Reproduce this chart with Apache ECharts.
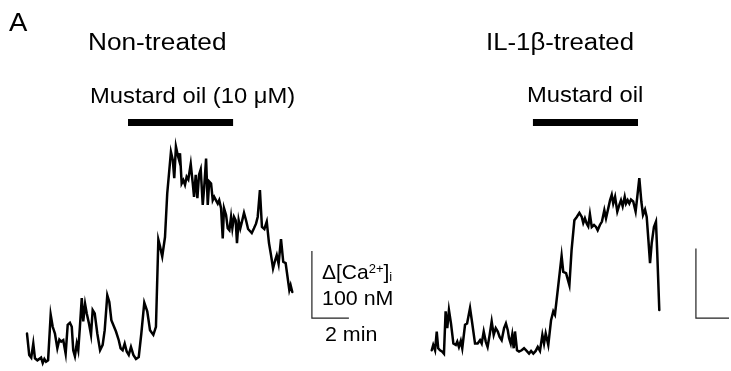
<!DOCTYPE html>
<html>
<head>
<meta charset="utf-8">
<script src="https://cdn.jsdelivr.net/npm/echarts@6/dist/echarts.min.js"></script>
<style>
  html, body { margin: 0; padding: 0; background: #fff; }
  #chart { width: 731px; height: 371px; }
</style>
</head>
<body>
<div id="chart"></div>
<script>
// Time (min) and Δ[Ca2+]i (nM) for the non-treated neuron
var leftTime = [0.00,0.12,0.23,0.34,0.43,0.56,0.66,0.76,0.85,0.94,
  1.03,1.14,1.28,1.39,1.51,1.64,1.75,1.85,1.96,2.09,
  2.20,2.32,2.42,2.50,2.59,2.69,2.77,2.86,2.96,3.04,
  3.14,3.23,3.35,3.46,3.55,3.66,3.80,3.95,4.09,4.20,
  4.34,4.45,4.56,4.66,4.81,4.96,5.06,5.17,5.28,5.39,
  5.50,5.62,5.75,5.89,6.04,6.18,6.34,6.50,6.65,6.83,
  6.97,7.10,7.19,7.31,7.46,7.58,7.78,7.88,7.96,8.05,
  8.15,8.22,8.27,8.36,8.45,8.54,8.63,8.72,8.85,8.96,
  9.03,9.12,9.21,9.30,9.39,9.50,9.58,9.68,9.77,9.85,
  9.95,10.04,10.12,10.22,10.31,10.39,10.49,10.58,10.65,10.76,
  10.85,10.94,11.03,11.10,11.19,11.28,11.35,11.44,11.53,11.62,
  11.73,11.84,11.95,12.05,12.15,12.27,12.38,12.47,12.59,12.70,
  12.83,12.96,13.08,13.19,13.30,13.41,13.50,13.60,13.73,13.85,
  13.98,14.07,14.18,14.25,14.34];
var leftCa = [47,15,11,32,10,7,5,11,3,9,
  5,7,75,57,47,25,38,35,37,17,
  60,63,57,22,13,32,22,57,100,65,
  91,77,62,45,82,77,47,22,30,52,
  104,94,67,66,50,37,25,22,32,20,
  15,27,15,9,12,47,93,80,52,45,
  57,187,177,162,191,256,318,306,279,326,
  313,306,316,271,276,269,281,277,300,271,
  251,284,249,284,292,239,266,308,239,274,
  271,246,251,249,241,246,234,189,234,224,
  204,201,221,204,221,216,182,216,204,214,
  227,216,203,200,197,204,211,221,261,206,
  203,214,182,164,144,156,164,151,188,154,
  152,152,112,119,109];

// Time (min) and Δ[Ca2+]i (nM) for the IL-1β-treated neuron
var rightTime = [0.04,0.12,0.22,0.31,0.39,0.49,0.61,0.70,0.79,0.88,
  0.97,1.08,1.21,1.34,1.42,1.51,1.61,1.69,1.84,1.95,
  2.11,2.23,2.38,2.52,2.65,2.74,2.85,2.96,3.06,3.17,
  3.28,3.39,3.50,3.61,3.71,3.82,3.95,4.05,4.15,4.22,
  4.31,4.39,4.47,4.54,4.65,4.76,4.90,5.03,5.17,5.30,
  5.41,5.53,5.66,5.77,5.89,6.02,6.11,6.20,6.34,6.49,
  6.61,6.70,6.88,7.06,7.15,7.30,7.48,7.60,7.75,7.88,
  8.02,8.15,8.23,8.32,8.42,8.50,8.59,8.69,8.81,8.92,
  9.01,9.13,9.24,9.37,9.46,9.55,9.68,9.77,9.85,9.95,
  10.07,10.18,10.27,10.36,10.47,10.54,10.63,10.72,10.81,10.93,
  11.06,11.15,11.26,11.37,11.46,11.57,11.66,11.75,11.84,11.93,
  12.05,12.16,12.23,12.34];
var rightCa = [22,30,22,50,25,22,20,17,80,55,
  82,62,32,30,35,27,36,25,60,62,
  85,62,32,32,37,32,50,35,27,45,
  65,45,55,50,42,37,55,62,52,40,
  32,45,25,50,22,20,22,25,21,17,
  21,17,21,27,21,45,32,47,30,67,
  80,75,119,163,139,137,119,172,216,221,
  227,221,212,219,211,207,225,206,209,206,
  201,209,214,231,219,221,246,254,241,251,
  229,239,246,237,251,241,246,241,247,244,
  229,251,279,244,224,232,221,187,152,182,
  206,214,167,82];

// Mustard oil application windows (min) and the level the bar is drawn at (nM)
var leftStimulus = [5.46, 11.14];
var rightStimulus = [5.51, 11.19];
var stimulusLevel = 362;

// Scale bars: 2 min horizontally, 100 nM vertically
var leftScaleTime = [15.4, 17.4];
var leftScaleCa = [70, 170];
var rightScaleTime = [14.32, 16.32];
var rightScaleCa = [70, 174];

var titles = ['Non-treated', 'IL-1β-treated'];
var stimulusLabels = ['Mustard oil (10 μM)', 'Mustard oil'];

function pairs(xs, ys) {
  return xs.map(function (x, i) { return [x, ys[i]]; });
}
function scaleBar(ts, cs) {
  return [[ts[0], cs[1]], [ts[0], cs[0]], [ts[1], cs[0]]];
}

var FONT = 'Liberation Sans';
var chart = echarts.init(document.getElementById('chart'), null, { renderer: 'canvas' });

// Both panels share 18.5 px per minute and 0.67 px per nM
function axisX(idx, max) {
  return { type: 'value', gridIndex: idx, min: 0, max: max, show: false };
}
function axisY(idx) {
  return { type: 'value', gridIndex: idx, min: 0, max: 400, show: false };
}
function lineSeries(idx, data, width, color, cap) {
  return {
    type: 'line', xAxisIndex: idx, yAxisIndex: idx, data: data,
    showSymbol: false, symbol: 'none', clip: false, silent: true,
    lineStyle: { width: width, color: color, cap: cap || 'butt', join: 'miter' },
    emphasis: { disabled: true }
  };
}
function label(text, x, y, size, sx) {
  return {
    type: 'text', x: x, y: y, scaleX: sx || 1,
    style: { text: text, fontSize: size, fontFamily: FONT, fill: '#000',
      align: 'left', verticalAlign: 'middle' }
  };
}

chart.setOption({
  animation: false,
  backgroundColor: '#fff',
  grid: [
    { left: 27, top: 97, width: 370, height: 268 },
    { left: 431, top: 97, width: 296, height: 268 }
  ],
  xAxis: [axisX(0, 20), axisX(1, 16)],
  yAxis: [axisY(0), axisY(1)],
  series: [
    lineSeries(0, pairs(leftTime, leftCa), 2.5, '#000', 'round'),
    lineSeries(0, pairs(leftStimulus, [stimulusLevel, stimulusLevel]), 7, '#000'),
    lineSeries(0, scaleBar(leftScaleTime, leftScaleCa), 1.2, '#222'),
    lineSeries(1, pairs(rightTime, rightCa), 2.5, '#000', 'round'),
    lineSeries(1, pairs(rightStimulus, [stimulusLevel, stimulusLevel]), 7, '#000'),
    lineSeries(1, scaleBar(rightScaleTime, rightScaleCa), 1.2, '#222')
  ],
  graphic: [
    label('A', 9, 24, 25, 1.1),
    label(titles[0], 88, 44, 23, 1.14),
    label(stimulusLabels[0], 90, 97, 22, 1.08),
    label(titles[1], 486, 44, 23, 1.12),
    label(stimulusLabels[1], 527, 96, 22, 1.08),
    {
      type: 'text', x: 322, y: 273,
      style: {
        text: 'Δ[Ca{sup|2+}]{sub|i}', fontSize: 21, fontFamily: FONT, fill: '#000',
        align: 'left', verticalAlign: 'middle',
        rich: {
          sup: { fontSize: 13, fontFamily: FONT, verticalAlign: 'top' },
          sub: { fontSize: 13, fontFamily: FONT, verticalAlign: 'bottom' }
        }
      }
    },
    label('100 nM', 322, 299, 21, 1.02),
    label('2 min', 325, 335, 21, 1.02)
  ]
});
</script>
</body>
</html>
